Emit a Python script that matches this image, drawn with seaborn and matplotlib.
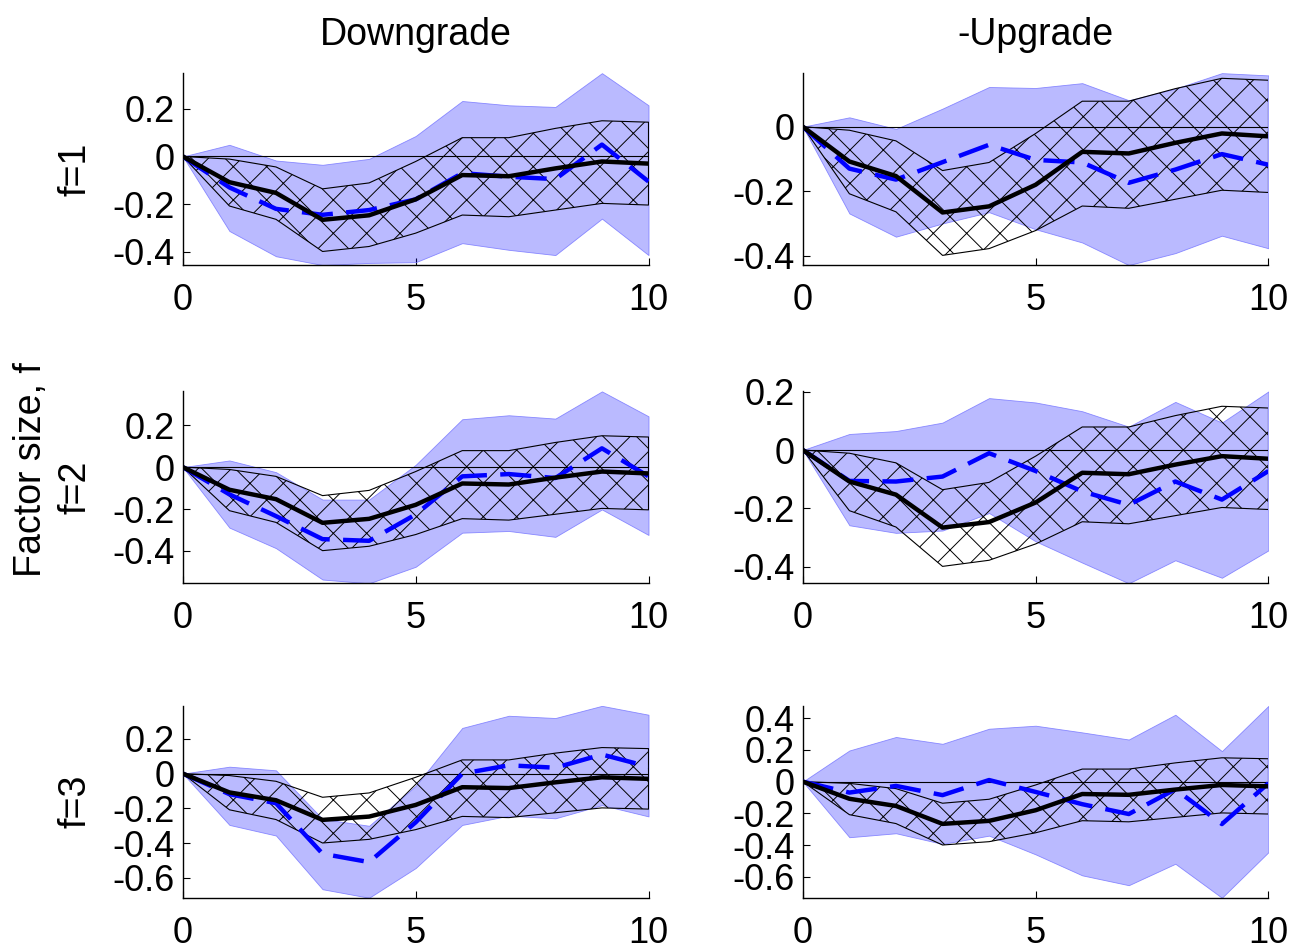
import numpy as np
import pandas as pd
import matplotlib
matplotlib.use('Agg')
import matplotlib.pyplot as plt
from matplotlib.ticker import FuncFormatter
import seaborn as sns

horizon = list(range(11))

# benchmark response (black line) and its band (hatched), same in every panel
base_line = [0, -0.108, -0.153, -0.266, -0.247, -0.18, -0.078, -0.083, -0.05, -0.021, -0.03]
base_upper = [0, -0.011, -0.044, -0.136, -0.111, -0.021, 0.079, 0.079, 0.118, 0.15, 0.144]
base_lower = [0, -0.208, -0.264, -0.399, -0.378, -0.322, -0.246, -0.253, -0.225, -0.197, -0.204]

# factor responses (blue dashed) and blue bands
down_f1_line = [0, -0.13, -0.22, -0.245, -0.225, -0.18, -0.07, -0.085, -0.095, 0.05, -0.105]
down_f1_upper = [0, 0.049, -0.017, -0.035, -0.01, 0.086, 0.233, 0.215, 0.208, 0.35, 0.215]
down_f1_lower = [0, -0.313, -0.419, -0.456, -0.447, -0.444, -0.364, -0.392, -0.414, -0.261, -0.414]

up_f1_line = [0, -0.13, -0.164, -0.11, -0.056, -0.103, -0.111, -0.174, -0.133, -0.085, -0.118]
up_f1_upper = [0, 0.029, -0.007, 0.056, 0.123, 0.12, 0.135, 0.082, 0.118, 0.166, 0.159]
up_f1_lower = [0, -0.269, -0.341, -0.3, -0.265, -0.318, -0.359, -0.429, -0.392, -0.338, -0.377]

down_f2_line = [0, -0.13, -0.234, -0.344, -0.352, -0.226, -0.044, -0.033, -0.052, 0.09, -0.044]
down_f2_upper = [0, 0.032, -0.024, -0.155, -0.155, 0.011, 0.229, 0.248, 0.232, 0.362, 0.243]
down_f2_lower = [0, -0.289, -0.387, -0.537, -0.555, -0.476, -0.313, -0.305, -0.333, -0.202, -0.324]

up_f2_line = [0, -0.106, -0.108, -0.091, -0.011, -0.072, -0.142, -0.188, -0.108, -0.17, -0.072]
up_f2_upper = [0, 0.055, 0.065, 0.094, 0.178, 0.163, 0.133, 0.08, 0.165, 0.094, 0.201]
up_f2_lower = [0, -0.258, -0.284, -0.276, -0.216, -0.313, -0.386, -0.457, -0.378, -0.438, -0.344]

down_f3_line = [0, -0.118, -0.17, -0.461, -0.509, -0.28, 0.0, 0.048, 0.034, 0.11, 0.04]
down_f3_upper = [0, 0.04, 0.019, -0.261, -0.3, -0.07, 0.263, 0.333, 0.32, 0.39, 0.339]
down_f3_lower = [0, -0.295, -0.356, -0.665, -0.714, -0.543, -0.295, -0.242, -0.257, -0.181, -0.246]

up_f3_line = [0, -0.069, -0.027, -0.085, 0.01, -0.065, -0.142, -0.204, -0.048, -0.267, -0.01]
up_f3_upper = [0, 0.196, 0.281, 0.238, 0.333, 0.352, 0.31, 0.265, 0.421, 0.192, 0.477]
up_f3_lower = [0, -0.35, -0.325, -0.392, -0.34, -0.458, -0.59, -0.652, -0.517, -0.731, -0.444]

col_titles = ['Downgrade', '-Upgrade']
row_labels = ['f=1', 'f=2', 'f=3']
panels = [
    [(down_f1_line, down_f1_upper, down_f1_lower), (up_f1_line, up_f1_upper, up_f1_lower)],
    [(down_f2_line, down_f2_upper, down_f2_lower), (up_f2_line, up_f2_upper, up_f2_lower)],
    [(down_f3_line, down_f3_upper, down_f3_lower), (up_f3_line, up_f3_upper, up_f3_lower)],
]
y_ticks = [
    [[-0.4, -0.2, 0, 0.2], [-0.4, -0.2, 0]],
    [[-0.4, -0.2, 0, 0.2], [-0.4, -0.2, 0, 0.2]],
    [[-0.6, -0.4, -0.2, 0, 0.2], [-0.6, -0.4, -0.2, 0, 0.2, 0.4]],
]

sns.set_style('white')
plt.rcParams['font.family'] = ['Liberation Sans', 'DejaVu Sans']
plt.rcParams['text.color'] = 'black'
plt.rcParams['axes.unicode_minus'] = False
plt.rcParams['hatch.linewidth'] = 0.7

fig, axes = plt.subplots(3, 2, figsize=(12.97, 9.5), dpi=100)

lefts = [0.141, 0.619]
bottoms = [0.721, 0.386, 0.055]
fmt = FuncFormatter(lambda v, p: '%g' % round(v, 2))

for r in range(3):
    for c in range(2):
        ax = axes[r, c]
        ax.set_position([lefts[c], bottoms[r], 0.359, 0.202])
        f_line, f_up, f_lo = panels[r][c]
        ax.fill_between(horizon, f_lo, f_up, facecolor=(0, 0, 1, 0.27),
                        edgecolor=(0.45, 0.45, 1, 0.8), linewidth=0.6, zorder=1)
        ax.fill_between(horizon, base_lower, base_upper, facecolor='none',
                        edgecolor='black', hatch='x', linewidth=0.8, zorder=2)
        ax.plot([0, 10], [0, 0], color='black', linewidth=0.8, zorder=3)
        df = pd.DataFrame({'h': horizon, 'base': base_line, 'factor': f_line})
        sns.lineplot(data=df, x='h', y='factor', ax=ax, color=(0, 0, 1),
                     linewidth=3.2, zorder=4)
        ax.lines[-1].set_dashes([7, 3])
        sns.lineplot(data=df, x='h', y='base', ax=ax, color='black',
                     linewidth=3.2, zorder=5)
        lo = min(min(f_lo), min(base_lower))
        hi = max(max(f_up), max(base_upper))
        ax.set_xlim(0, 10)
        ax.set_ylim(lo, hi)
        ax.set_xticks([0, 5, 10])
        ax.set_yticks(y_ticks[r][c])
        ax.yaxis.set_major_formatter(fmt)
        ax.set_xlabel('')
        ax.set_ylabel('')
        for s in ['top', 'right']:
            ax.spines[s].set_visible(False)
        for s in ['left', 'bottom']:
            ax.spines[s].set_color('black')
            ax.spines[s].set_linewidth(1.0)
        ax.tick_params(axis='both', direction='in', length=5, width=0.8,
                       labelsize=26, colors='black', left=True, bottom=True)
        ax.tick_params(axis='x', pad=13)
        ax.tick_params(axis='y', pad=6)
        if r == 0:
            ax.set_title(col_titles[c], fontsize=27, pad=20, color='black')
        if c == 0:
            fig.text(0.058, bottoms[r] + 0.101, row_labels[r], rotation=90,
                     fontsize=27, ha='center', va='center')

fig.text(0.024, 1 - 470 / 950, 'Factor size, f', rotation=90, fontsize=27,
         ha='center', va='center')

fig.savefig('out.png', dpi=100)
